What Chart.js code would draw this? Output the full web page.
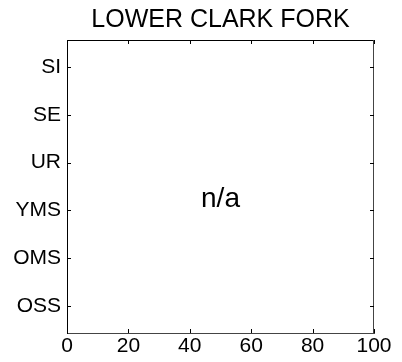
<!DOCTYPE html>
<html>
<head>
<meta charset="utf-8">
<script src="https://cdn.jsdelivr.net/npm/chart.js@4.4.1/dist/chart.umd.min.js"></script>
<style>
  html, body { margin: 0; padding: 0; background: #fff; }
  #wrap { width: 402px; height: 362px; }
</style>
</head>
<body>
<div id="wrap"><canvas id="chart" width="402" height="362"></canvas></div>
<script>
// 데이터
const chartTitle = 'LOWER CLARK FORK';
const categories = ['SI', 'SE', 'UR', 'YMS', 'OMS', 'OSS']; // 위에서 아래로
const xTicks = [0, 20, 40, 60, 80, 100];
const points = []; // 값 없음
const noteText = 'n/a';

const FONT = 'Liberation Sans, Arial, Helvetica, sans-serif';

// 안쪽 눈금 + 위/오른쪽 테두리, n/a 문구
const framePlugin = {
    id: 'frame',
    afterDraw(chart) {
        const c = chart.ctx;
        const a = chart.chartArea;
        const xs = chart.scales.x, ys = chart.scales.y;
        const len = 4;
        c.save();
        c.lineWidth = 1;
        c.strokeStyle = '#000';
        c.beginPath();
        c.moveTo(a.left, a.top + 0.5);
        c.lineTo(a.right, a.top + 0.5);
        c.stroke();
        c.strokeStyle = '#444';
        c.beginPath();
        c.moveTo(a.right - 0.5, a.top);
        c.lineTo(a.right - 0.5, a.bottom);
        c.stroke();

        c.strokeStyle = '#000';
        c.beginPath();
        xs.ticks.forEach(t => {
            const px = Math.round(xs.getPixelForValue(t.value)) + 0.5;
            c.moveTo(px, a.bottom); c.lineTo(px, a.bottom - len);
            c.moveTo(px, a.top); c.lineTo(px, a.top + len);
        });
        ys.ticks.forEach(t => {
            const py = Math.round(ys.getPixelForValue(t.value)) + 0.5;
            c.moveTo(a.left, py); c.lineTo(a.left + len, py);
            c.moveTo(a.right, py); c.lineTo(a.right - len, py);
        });
        c.stroke();

        c.fillStyle = '#000';
        c.font = '28px ' + FONT;
        c.textAlign = 'center';
        c.textBaseline = 'alphabetic';
        c.fillText(noteText, xs.getPixelForValue(50), ys.getPixelForValue(3.93));
        c.restore();
    }
};

const ctx = document.getElementById('chart').getContext('2d');
new Chart(ctx, {
    type: 'scatter',
    data: {
        datasets: [{ data: points, pointRadius: 0 }]
    },
    options: {
        responsive: false,
        animation: false,
        layout: { padding: { left: 0, right: 28, top: 0, bottom: 0 } },
        plugins: {
            legend: { display: false },
            tooltip: { enabled: false },
            title: {
                display: true,
                fullSize: false,
                text: chartTitle,
                color: '#000',
                font: { family: FONT, size: 25, weight: 'normal' },
                padding: { top: 5, bottom: 5 }
            }
        },
        scales: {
            x: {
                type: 'linear',
                min: 0,
                max: 100,
                afterBuildTicks: s => { s.ticks = xTicks.map(v => ({ value: v })); },
                afterFit: s => { s.height = 29; },
                ticks: {
                    color: '#000',
                    padding: 1,
                    maxRotation: 0,
                    font: { family: FONT, size: 21 }
                },
                grid: { drawOnChartArea: false, drawTicks: false },
                border: { display: true, color: '#444', width: 1 }
            },
            y: {
                type: 'linear',
                reverse: true,
                min: 0.43,
                max: 6.57,
                afterBuildTicks: s => { s.ticks = categories.map((_, i) => ({ value: i + 1 })); },
                afterFit: s => { s.width = 67; },
                ticks: {
                    color: '#000',
                    padding: 6,
                    font: { family: FONT, size: 21 },
                    callback: v => categories[v - 1]
                },
                grid: { drawOnChartArea: false, drawTicks: false },
                border: { display: true, color: '#000', width: 1 }
            }
        }
    },
    plugins: [framePlugin]
});
</script>
</body>
</html>
